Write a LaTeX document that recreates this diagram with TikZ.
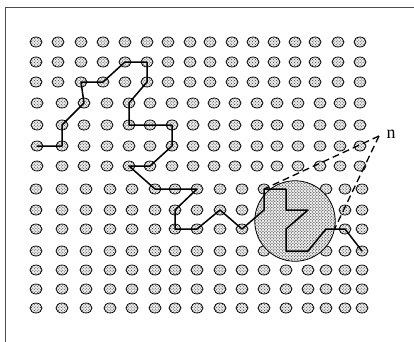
\documentclass[tikz,border=0pt]{standalone}
\usepackage{fontspec}
\setmainfont{Liberation Serif}
\usetikzlibrary{shapes.geometric,patterns,calc}
\tikzset{
  site/.style={ellipse, draw=black, line width=0.75bp, minimum width=12bp, minimum height=10bp, inner sep=0pt, preaction={fill=black!8}, pattern=crosshatch dots, pattern color=black!80},
  blob/.style={circle, draw=black, line width=0.8bp, minimum size=80.5bp, inner sep=0pt, preaction={fill=black!8}, pattern=crosshatch dots, pattern color=black},
  chain/.style={line width=1.5bp, line join=round, line cap=round},
  guide/.style={line width=1.3bp, dash pattern=on 7bp off 4bp},
  frameline/.style={line width=0.9bp, draw=black!70},
}
\def\colA{36,58,81,103,125,147,168,190,210,232,253,274,295,315,338,360}
\def\colB{37,62,84,107,129,150,172,193,214,235,257,277,298,320,340,360}
\def\colC{36,62,86,110,132,155,175,197,220,242,264,286,308,326,345,362}
\def\rowY{42,62,82,103,125,146,166,189,210,229,251,270,289,308}
\begin{document}
\begin{tikzpicture}[x=1bp,y=-1bp]
\useasboundingbox (0,0) rectangle (414,342);
% frame
\coordinate (fbl) at (5,342);
\coordinate (ftl) at (5,7);
\coordinate (ftr) at (414,7);
\draw[frameline] (fbl) -- (ftl) -- (ftr);
% lattice sites
\foreach \r in {0,...,13}{
  \foreach \c in {0,...,15}{
    \ifnum\r<3
      \pgfmathsetmacro\xx{{\colA}[\c]}%
    \else\ifnum\r<7
      \pgfmathsetmacro\xx{{\colB}[\c]}%
    \else
      \pgfmathsetmacro\xx{{\colC}[\c]}%
    \fi\fi
    \pgfmathsetmacro\yy{{\rowY}[\r]}%
    \node[site] (s-\c-\r) at (\xx,\yy) {};
  }
}
% blob
\node[blob] (blob) at (295,221) {};
% chain
\draw[chain] (s-0-5.center)
  \foreach \c/\r in {1/5,1/4,2/3,2/2,3/2,4/1,5/1,5/2,4/3,4/4,5/4,6/4,6/5,5/6,4/6,5/7,6/7,7/7,6/8,6/9,7/9,8/8,9/9,10/8,10/7,11/7,11/8,12/8,11/9,11/10,12/10,13/9,14/9,15/10}
  { -- (s-\c-\r.center) };
% guides
\coordinate (apex) at (379,136);
\coordinate (exit) at ($(s-13-9.center)!0.45!(s-14-9.center)$);
\draw[guide] (apex) -- (s-10-7.center);
\draw[guide] (apex) -- (exit);
\node[inner sep=0pt, font=\fontsize{18}{20}\selectfont] (nlabel) at (391,134) {n};
\end{tikzpicture}
\end{document}
